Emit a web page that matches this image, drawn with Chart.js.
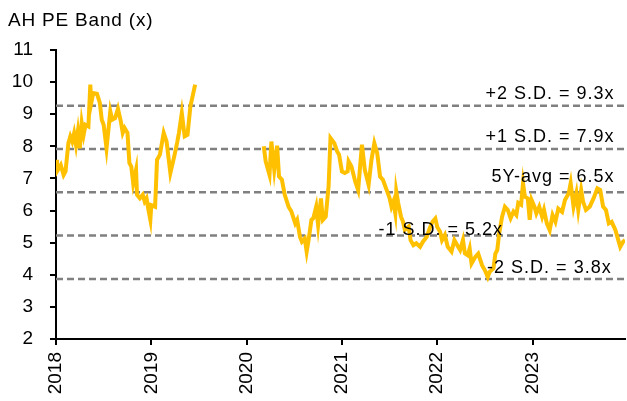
<!DOCTYPE html>
<html>
<head>
<meta charset="utf-8">
<script src="https://cdn.jsdelivr.net/npm/chart.js@4.4.0/dist/chart.umd.min.js"></script>
<style>
  html, body { margin: 0; padding: 0; background: #fff; }
  #wrap { width: 627px; height: 401px; }
</style>
</head>
<body>
<div id="wrap"><canvas id="peChart" width="627" height="401"></canvas></div>
<script>
// AH PE band, x = decimal year, null = no data (gap in 2019/2020)
const peYears = [
  2018.00, 2018.01, 2018.05, 2018.08, 2018.10, 2018.13, 2018.15, 2018.17, 2018.19, 2018.21,
  2018.23, 2018.25, 2018.27, 2018.29, 2018.31, 2018.34, 2018.36, 2018.37, 2018.39, 2018.43,
  2018.46, 2018.48, 2018.50, 2018.53, 2018.57, 2018.59, 2018.62, 2018.65, 2018.68, 2018.70,
  2018.72, 2018.75, 2018.77, 2018.79, 2018.81, 2018.84, 2018.85, 2018.88, 2018.91, 2018.93,
  2018.95, 2018.97, 2018.99, 2019.00, 2019.04, 2019.06, 2019.09, 2019.13, 2019.16, 2019.20,
  2019.24, 2019.27, 2019.29, 2019.32, 2019.35, 2019.38, 2019.41, 2019.46,
  2019.80,
  2020.18, 2020.20, 2020.24, 2020.26, 2020.29, 2020.32, 2020.34, 2020.37, 2020.40, 2020.44,
  2020.47, 2020.51, 2020.53, 2020.56, 2020.58, 2020.61, 2020.63, 2020.65, 2020.68, 2020.70,
  2020.73, 2020.75, 2020.78, 2020.80, 2020.83, 2020.86, 2020.88, 2020.92, 2020.95, 2020.97,
  2021.00, 2021.03, 2021.06, 2021.07, 2021.10, 2021.14, 2021.17, 2021.21, 2021.24, 2021.28,
  2021.31, 2021.34, 2021.37, 2021.40, 2021.43, 2021.48, 2021.50, 2021.52, 2021.54, 2021.56,
  2021.57, 2021.59, 2021.62, 2021.64, 2021.66, 2021.70, 2021.72, 2021.75, 2021.78, 2021.82,
  2021.85, 2021.89, 2021.92, 2021.95, 2021.98, 2022.00, 2022.03, 2022.05, 2022.08, 2022.11,
  2022.15, 2022.18, 2022.21, 2022.24, 2022.27, 2022.29, 2022.32, 2022.34, 2022.36, 2022.40,
  2022.43, 2022.47, 2022.50, 2022.53, 2022.55, 2022.59, 2022.61, 2022.63, 2022.65, 2022.68,
  2022.71, 2022.74, 2022.77, 2022.80, 2022.83, 2022.85, 2022.88, 2022.90, 2022.92, 2022.95,
  2022.97, 2022.99, 2023.02, 2023.04, 2023.07, 2023.10, 2023.12, 2023.15, 2023.18, 2023.21,
  2023.24, 2023.27, 2023.31, 2023.34, 2023.38, 2023.40, 2023.43, 2023.46, 2023.48, 2023.51,
  2023.53, 2023.56, 2023.60, 2023.64, 2023.68, 2023.71, 2023.74, 2023.77, 2023.80, 2023.83,
  2023.87, 2023.89, 2023.92, 2023.95, 2023.97
];
const peValues = [
  7.58, 7.22, 7.42, 7.11, 7.22, 8.10, 8.31, 8.15, 8.41, 8.04,
  8.47, 7.94, 8.73, 8.36, 8.67, 8.62, 9.92, 9.35, 9.66, 9.64,
  9.35, 8.83, 8.67, 7.94, 9.09, 8.83, 8.88, 9.17, 8.78, 8.42,
  8.57, 8.42, 7.48, 7.37, 6.85, 7.27, 6.49, 6.38, 6.49, 6.28,
  6.38, 6.02, 5.71, 6.17, 6.12, 7.58, 7.74, 8.42, 8.15, 7.17,
  7.68, 8.10, 8.42, 9.04, 8.31, 8.36, 9.25, 9.92,
  null,
  8.00, 7.53, 7.11, 8.15, 7.27, 8.02, 7.06, 6.96, 6.49, 6.12,
  5.97, 5.60, 5.71, 5.18, 5.03, 5.13, 4.72, 5.08, 5.71, 5.76,
  6.12, 5.55, 6.38, 5.71, 5.81, 6.75, 8.26, 8.10, 7.84, 7.74,
  7.22, 7.17, 7.22, 7.53, 7.37, 6.90, 6.64, 8.05, 7.27, 6.80,
  7.58, 8.10, 7.79, 7.06, 6.96, 6.55, 6.39, 6.12, 6.28, 5.92,
  6.60, 6.24, 5.81, 5.66, 5.40, 5.50, 5.08, 4.92, 4.98, 4.87,
  5.03, 5.18, 5.44, 5.65, 5.75, 5.49, 5.34, 5.08, 5.24, 4.87,
  4.72, 5.08, 4.92, 4.77, 5.08, 4.67, 4.61, 4.82, 4.35, 4.56,
  4.66, 4.30, 4.14, 3.93, 4.09, 4.20, 4.66, 4.77, 5.29, 5.80,
  6.12, 6.02, 5.76, 5.97, 5.86, 6.24, 6.18, 6.85, 6.43, 6.38,
  5.71, 6.33, 6.12, 5.91, 6.12, 5.81, 6.02, 5.60, 5.39, 5.86,
  5.65, 6.06, 5.96, 6.33, 6.54, 6.85, 6.12, 6.54, 6.02, 6.64,
  6.28, 6.02, 6.12, 6.38, 6.69, 6.64, 6.12, 6.02, 5.60, 5.65,
  5.39, 5.18, 4.87, 5.03, 5.08
];

// band lines: +2SD, +1SD, 5Y avg, -1SD, -2SD
const bandLevels = [9.26, 7.92, 6.57, 5.22, 3.87];
const bandLabels = ['+2 S.D. = 9.3x', '+1 S.D. = 7.9x', '5Y-avg = 6.5x', '-1 S.D. = 5.2x', '-2 S.D. = 3.8x'];

const yearTicks = [2018, 2019, 2020, 2021, 2022, 2023];
const xMin = 2018;
const xMax = 2023.97;

const FONT = "'Liberation Sans', Arial, sans-serif";

// where each band label sits: right edge (in years) and gap above its line (px)
const bandLabelRight = [2023.86, 2023.86, 2023.86, 2022.69, 2023.83];
const bandLabelGap = [7, 7, 10, 1, 6];

const textPlugin = {
  id: 'textPlugin',
  afterDatasetsDraw(chart) {
    const ctx = chart.ctx;
    const x = chart.scales.x;
    const y = chart.scales.y;
    ctx.save();
    ctx.fillStyle = '#000';
    ctx.font = '18px ' + FONT;
    ctx.letterSpacing = '1px';
    ctx.textAlign = 'right';
    ctx.textBaseline = 'alphabetic';
    bandLabels.forEach((txt, i) => {
      ctx.fillText(txt, x.getPixelForValue(bandLabelRight[i]), y.getPixelForValue(bandLevels[i]) - bandLabelGap[i]);
    });
    // title
    ctx.textAlign = 'left';
    ctx.font = '19px ' + FONT;
    ctx.letterSpacing = '0.8px';
    ctx.fillText('AH PE Band (x)', 8, 26);
    ctx.restore();
  }
};

const peData = peYears.map((yr, i) => ({ x: yr, y: peValues[i] }));

const datasets = [{
  label: 'AH PE',
  data: peData,
  borderColor: '#FFC000',
  borderWidth: 4,
  pointRadius: 0,
  tension: 0,
  spanGaps: false
}];

bandLevels.forEach((lvl, i) => {
  datasets.push({
    label: bandLabels[i],
    data: [{ x: xMin, y: lvl }, { x: xMax, y: lvl }],
    borderColor: '#808080',
    borderWidth: 2.5,
    borderDash: [7, 4],
    pointRadius: 0
  });
});

const ctx = document.getElementById('peChart').getContext('2d');
new Chart(ctx, {
  type: 'line',
  data: { datasets: datasets },
  options: {
    responsive: false,
    animation: false,
    layout: { padding: { top: 50, right: 2, left: 0, bottom: 0 } },
    plugins: {
      legend: { display: false },
      tooltip: { enabled: false },
      title: { display: false }
    },
    scales: {
      x: {
        type: 'linear',
        min: xMin,
        max: xMax,
        afterBuildTicks: (scale) => { scale.ticks = yearTicks.map(v => ({ value: v })); },
        afterFit: (scale) => { scale.height = 62; },
        grid: { drawOnChartArea: false, drawTicks: true, tickLength: 6, color: '#000', lineWidth: 2 },
        border: { color: '#000', width: 2 },
        ticks: {
          minRotation: 90,
          maxRotation: 90,
          padding: 7,
          color: '#000',
          font: { family: FONT, size: 19 },
          callback: (v) => String(v)
        }
      },
      y: {
        min: 2,
        max: 11,
        afterFit: (scale) => { scale.width = 56; },
        grid: { drawOnChartArea: false, drawTicks: true, tickLength: 6, color: '#000', lineWidth: 2 },
        border: { color: '#000', width: 2 },
        ticks: {
          stepSize: 1,
          padding: 17,
          color: '#000',
          font: { family: FONT, size: 19 }
        }
      }
    }
  },
  plugins: [textPlugin]
});
</script>
</body>
</html>
